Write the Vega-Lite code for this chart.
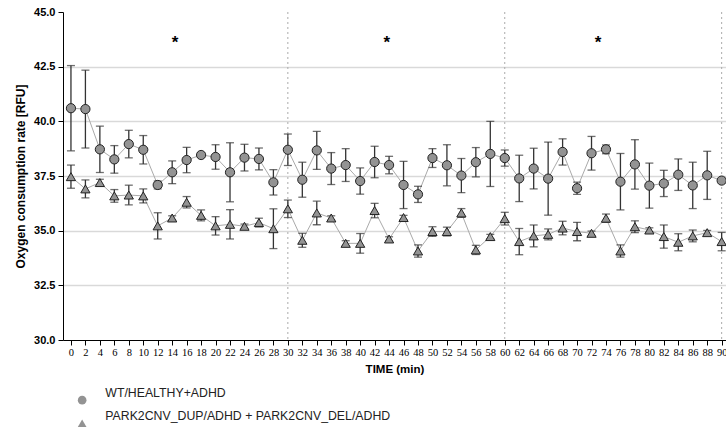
{
  "$schema": "https://vega.github.io/schema/vega-lite/v6.json",
  "autosize": {"type": "none"},
  "padding": {"left": 63, "top": 12, "right": 0, "bottom": 96},
  "width": 663,
  "height": 328,
  "config": {"view": {"stroke": null}, "font": "Liberation Sans"},
  "datasets": {
    "obs": [
      {"time": 0, "group": "WT/HEALTHY+ADHD", "mean": 40.6, "err": 1.95},
      {"time": 2, "group": "WT/HEALTHY+ADHD", "mean": 40.56, "err": 1.78},
      {"time": 4, "group": "WT/HEALTHY+ADHD", "mean": 38.72, "err": 1.06},
      {"time": 6, "group": "WT/HEALTHY+ADHD", "mean": 38.26, "err": 0.63},
      {"time": 8, "group": "WT/HEALTHY+ADHD", "mean": 38.96, "err": 0.63},
      {"time": 10, "group": "WT/HEALTHY+ADHD", "mean": 38.7, "err": 0.65},
      {"time": 12, "group": "WT/HEALTHY+ADHD", "mean": 37.09, "err": 0.18},
      {"time": 14, "group": "WT/HEALTHY+ADHD", "mean": 37.67, "err": 0.52},
      {"time": 16, "group": "WT/HEALTHY+ADHD", "mean": 38.23, "err": 0.58},
      {"time": 18, "group": "WT/HEALTHY+ADHD", "mean": 38.46, "err": 0.1},
      {"time": 20, "group": "WT/HEALTHY+ADHD", "mean": 38.37, "err": 0.56},
      {"time": 22, "group": "WT/HEALTHY+ADHD", "mean": 37.67, "err": 1.35},
      {"time": 24, "group": "WT/HEALTHY+ADHD", "mean": 38.34, "err": 0.61},
      {"time": 26, "group": "WT/HEALTHY+ADHD", "mean": 38.28, "err": 0.5},
      {"time": 28, "group": "WT/HEALTHY+ADHD", "mean": 37.21, "err": 0.58},
      {"time": 30, "group": "WT/HEALTHY+ADHD", "mean": 38.7, "err": 0.72},
      {"time": 32, "group": "WT/HEALTHY+ADHD", "mean": 37.33, "err": 0.8},
      {"time": 34, "group": "WT/HEALTHY+ADHD", "mean": 38.67, "err": 0.87},
      {"time": 36, "group": "WT/HEALTHY+ADHD", "mean": 37.84, "err": 0.73},
      {"time": 38, "group": "WT/HEALTHY+ADHD", "mean": 38.0, "err": 0.75},
      {"time": 40, "group": "WT/HEALTHY+ADHD", "mean": 37.27, "err": 0.6},
      {"time": 42, "group": "WT/HEALTHY+ADHD", "mean": 38.14, "err": 0.72},
      {"time": 44, "group": "WT/HEALTHY+ADHD", "mean": 38.0, "err": 0.4},
      {"time": 46, "group": "WT/HEALTHY+ADHD", "mean": 37.09, "err": 1.08},
      {"time": 48, "group": "WT/HEALTHY+ADHD", "mean": 36.66, "err": 0.37},
      {"time": 50, "group": "WT/HEALTHY+ADHD", "mean": 38.32, "err": 0.43},
      {"time": 52, "group": "WT/HEALTHY+ADHD", "mean": 37.99, "err": 0.94},
      {"time": 54, "group": "WT/HEALTHY+ADHD", "mean": 37.52, "err": 0.78},
      {"time": 56, "group": "WT/HEALTHY+ADHD", "mean": 38.13, "err": 0.67},
      {"time": 58, "group": "WT/HEALTHY+ADHD", "mean": 38.51, "err": 1.49},
      {"time": 60, "group": "WT/HEALTHY+ADHD", "mean": 38.32, "err": 0.37},
      {"time": 62, "group": "WT/HEALTHY+ADHD", "mean": 37.39, "err": 1.06},
      {"time": 64, "group": "WT/HEALTHY+ADHD", "mean": 37.84, "err": 0.93},
      {"time": 66, "group": "WT/HEALTHY+ADHD", "mean": 37.38, "err": 1.67},
      {"time": 68, "group": "WT/HEALTHY+ADHD", "mean": 38.6, "err": 0.6},
      {"time": 70, "group": "WT/HEALTHY+ADHD", "mean": 36.94, "err": 0.28},
      {"time": 72, "group": "WT/HEALTHY+ADHD", "mean": 38.54, "err": 0.77},
      {"time": 74, "group": "WT/HEALTHY+ADHD", "mean": 38.72, "err": 0.2},
      {"time": 76, "group": "WT/HEALTHY+ADHD", "mean": 37.24, "err": 1.29},
      {"time": 78, "group": "WT/HEALTHY+ADHD", "mean": 38.03, "err": 1.13},
      {"time": 80, "group": "WT/HEALTHY+ADHD", "mean": 37.06, "err": 1.03},
      {"time": 82, "group": "WT/HEALTHY+ADHD", "mean": 37.16, "err": 0.6},
      {"time": 84, "group": "WT/HEALTHY+ADHD", "mean": 37.56, "err": 0.72},
      {"time": 86, "group": "WT/HEALTHY+ADHD", "mean": 37.07, "err": 1.06},
      {"time": 88, "group": "WT/HEALTHY+ADHD", "mean": 37.53, "err": 1.1},
      {"time": 90, "group": "WT/HEALTHY+ADHD", "mean": 37.29, "err": 0.1},
      {"time": 0, "group": "PARK2CNV_DUP/ADHD + PARK2CNV_DEL/ADHD", "mean": 37.47, "err": 0.53},
      {"time": 2, "group": "PARK2CNV_DUP/ADHD + PARK2CNV_DEL/ADHD", "mean": 36.91, "err": 0.41},
      {"time": 4, "group": "PARK2CNV_DUP/ADHD + PARK2CNV_DEL/ADHD", "mean": 37.2, "err": 0.15},
      {"time": 6, "group": "PARK2CNV_DUP/ADHD + PARK2CNV_DEL/ADHD", "mean": 36.59, "err": 0.29},
      {"time": 8, "group": "PARK2CNV_DUP/ADHD + PARK2CNV_DEL/ADHD", "mean": 36.63, "err": 0.45},
      {"time": 10, "group": "PARK2CNV_DUP/ADHD + PARK2CNV_DEL/ADHD", "mean": 36.59, "err": 0.32},
      {"time": 12, "group": "PARK2CNV_DUP/ADHD + PARK2CNV_DEL/ADHD", "mean": 35.22, "err": 0.6},
      {"time": 14, "group": "PARK2CNV_DUP/ADHD + PARK2CNV_DEL/ADHD", "mean": 35.58, "err": 0.1},
      {"time": 16, "group": "PARK2CNV_DUP/ADHD + PARK2CNV_DEL/ADHD", "mean": 36.3, "err": 0.26},
      {"time": 18, "group": "PARK2CNV_DUP/ADHD + PARK2CNV_DEL/ADHD", "mean": 35.7, "err": 0.25},
      {"time": 20, "group": "PARK2CNV_DUP/ADHD + PARK2CNV_DEL/ADHD", "mean": 35.22, "err": 0.42},
      {"time": 22, "group": "PARK2CNV_DUP/ADHD + PARK2CNV_DEL/ADHD", "mean": 35.29, "err": 0.67},
      {"time": 24, "group": "PARK2CNV_DUP/ADHD + PARK2CNV_DEL/ADHD", "mean": 35.2, "err": 0.1},
      {"time": 26, "group": "PARK2CNV_DUP/ADHD + PARK2CNV_DEL/ADHD", "mean": 35.37, "err": 0.2},
      {"time": 28, "group": "PARK2CNV_DUP/ADHD + PARK2CNV_DEL/ADHD", "mean": 35.09, "err": 0.91},
      {"time": 30, "group": "PARK2CNV_DUP/ADHD + PARK2CNV_DEL/ADHD", "mean": 36.0, "err": 0.4},
      {"time": 32, "group": "PARK2CNV_DUP/ADHD + PARK2CNV_DEL/ADHD", "mean": 34.56, "err": 0.32},
      {"time": 34, "group": "PARK2CNV_DUP/ADHD + PARK2CNV_DEL/ADHD", "mean": 35.81, "err": 0.54},
      {"time": 36, "group": "PARK2CNV_DUP/ADHD + PARK2CNV_DEL/ADHD", "mean": 35.58, "err": 0.1},
      {"time": 38, "group": "PARK2CNV_DUP/ADHD + PARK2CNV_DEL/ADHD", "mean": 34.42, "err": 0.12},
      {"time": 40, "group": "PARK2CNV_DUP/ADHD + PARK2CNV_DEL/ADHD", "mean": 34.42, "err": 0.45},
      {"time": 42, "group": "PARK2CNV_DUP/ADHD + PARK2CNV_DEL/ADHD", "mean": 35.92, "err": 0.33},
      {"time": 44, "group": "PARK2CNV_DUP/ADHD + PARK2CNV_DEL/ADHD", "mean": 34.62, "err": 0.1},
      {"time": 46, "group": "PARK2CNV_DUP/ADHD + PARK2CNV_DEL/ADHD", "mean": 35.6, "err": 0.1},
      {"time": 48, "group": "PARK2CNV_DUP/ADHD + PARK2CNV_DEL/ADHD", "mean": 34.07, "err": 0.28},
      {"time": 50, "group": "PARK2CNV_DUP/ADHD + PARK2CNV_DEL/ADHD", "mean": 34.96, "err": 0.22},
      {"time": 52, "group": "PARK2CNV_DUP/ADHD + PARK2CNV_DEL/ADHD", "mean": 34.96, "err": 0.2},
      {"time": 54, "group": "PARK2CNV_DUP/ADHD + PARK2CNV_DEL/ADHD", "mean": 35.81, "err": 0.2},
      {"time": 56, "group": "PARK2CNV_DUP/ADHD + PARK2CNV_DEL/ADHD", "mean": 34.12, "err": 0.21},
      {"time": 58, "group": "PARK2CNV_DUP/ADHD + PARK2CNV_DEL/ADHD", "mean": 34.73, "err": 0.1},
      {"time": 60, "group": "PARK2CNV_DUP/ADHD + PARK2CNV_DEL/ADHD", "mean": 35.55, "err": 0.29},
      {"time": 62, "group": "PARK2CNV_DUP/ADHD + PARK2CNV_DEL/ADHD", "mean": 34.5, "err": 0.6},
      {"time": 64, "group": "PARK2CNV_DUP/ADHD + PARK2CNV_DEL/ADHD", "mean": 34.76, "err": 0.5},
      {"time": 66, "group": "PARK2CNV_DUP/ADHD + PARK2CNV_DEL/ADHD", "mean": 34.83, "err": 0.25},
      {"time": 68, "group": "PARK2CNV_DUP/ADHD + PARK2CNV_DEL/ADHD", "mean": 35.12, "err": 0.31},
      {"time": 70, "group": "PARK2CNV_DUP/ADHD + PARK2CNV_DEL/ADHD", "mean": 34.96, "err": 0.42},
      {"time": 72, "group": "PARK2CNV_DUP/ADHD + PARK2CNV_DEL/ADHD", "mean": 34.88, "err": 0.1},
      {"time": 74, "group": "PARK2CNV_DUP/ADHD + PARK2CNV_DEL/ADHD", "mean": 35.57, "err": 0.19},
      {"time": 76, "group": "PARK2CNV_DUP/ADHD + PARK2CNV_DEL/ADHD", "mean": 34.07, "err": 0.28},
      {"time": 78, "group": "PARK2CNV_DUP/ADHD + PARK2CNV_DEL/ADHD", "mean": 35.18, "err": 0.27},
      {"time": 80, "group": "PARK2CNV_DUP/ADHD + PARK2CNV_DEL/ADHD", "mean": 35.03, "err": 0.1},
      {"time": 82, "group": "PARK2CNV_DUP/ADHD + PARK2CNV_DEL/ADHD", "mean": 34.73, "err": 0.53},
      {"time": 84, "group": "PARK2CNV_DUP/ADHD + PARK2CNV_DEL/ADHD", "mean": 34.47, "err": 0.39},
      {"time": 86, "group": "PARK2CNV_DUP/ADHD + PARK2CNV_DEL/ADHD", "mean": 34.76, "err": 0.27},
      {"time": 88, "group": "PARK2CNV_DUP/ADHD + PARK2CNV_DEL/ADHD", "mean": 34.91, "err": 0.1},
      {"time": 90, "group": "PARK2CNV_DUP/ADHD + PARK2CNV_DEL/ADHD", "mean": 34.5, "err": 0.42}
    ],
    "dividers": [{"time": 30}, {"time": 60}, {"time": 90}],
    "stars": [
      {"time": 14.4, "mean": 43.6, "label": "*"},
      {"time": 43.7, "mean": 43.6, "label": "*"},
      {"time": 72.9, "mean": 43.6, "label": "*"}
    ]
  },
  "encoding": {
    "x": {"field": "time", "type": "quantitative", "scale": {"domain": [-1.1, 90.6], "nice": false, "zero": false},
      "title": "TIME (min)",
      "axis": {
        "values": [0,2,4,6,8,10,12,14,16,18,20,22,24,26,28,30,32,34,36,38,40,42,44,46,48,50,52,54,56,58,60,62,64,66,68,70,72,74,76,78,80,82,84,86,88,90],
        "labelAngle": 0, "grid": false, "tickSize": 5, "tickColor": "#000", "domainColor": "#000",
        "labelFont": "Liberation Sans Narrow", "labelFontSize": 10.5, "labelColor": "#000", "labelPadding": 2,
        "labelOverlap": false, "labelFlush": false,
        "titleFontWeight": "bold", "titleFontSize": 11.5, "titleColor": "#000", "titlePadding": 6
      }}
  },
  "layer": [
    {
      "data": {"name": "dividers"},
      "mark": {"type": "rule", "color": "#aaaaaa", "strokeDash": [2, 3], "strokeWidth": 1},
      "encoding": {}
    },
    {
      "data": {"name": "obs"},
      "mark": {"type": "line", "color": "#aaaaaa", "strokeWidth": 1},
      "encoding": {
        "y": {"field": "mean", "type": "quantitative", "scale": {"domain": [30, 45], "nice": false, "zero": false},
          "title": "Oxygen consumption rate [RFU]",
          "axis": {
            "values": [30, 32.5, 35, 37.5, 40, 42.5, 45], "format": ".1f",
            "labelFontWeight": "bold", "labelFontSize": 11, "labelColor": "#000", "labelPadding": 3,
            "tickSize": 5, "tickColor": "#000", "domainColor": "#000",
            "grid": true, "gridColor": "#d9d9d9", "gridWidth": 1.5,
            "gridOpacity": {"condition": {"test": "datum.value == 45 || datum.value == 30", "value": 0}, "value": 1},
            "titleFontWeight": "bold", "titleFontSize": 12, "titleColor": "#000", "titlePadding": 6
          }},
        "detail": {"field": "group"}
      }
    },
    {
      "data": {"name": "obs"},
      "mark": {"type": "errorbar", "color": "#333333", "thickness": 1.3, "ticks": {"size": 8, "color": "#333333", "thickness": 1.3}},
      "encoding": {
        "y": {"field": "mean", "type": "quantitative", "title": "Oxygen consumption rate [RFU]"},
        "yError": {"field": "err"},
        "detail": {"field": "group"}
      }
    },
    {
      "data": {"name": "obs"},
      "mark": {"type": "point", "filled": true, "fill": "#939393", "stroke": "#222222", "strokeWidth": 1, "opacity": 1, "size": 85},
      "encoding": {
        "y": {"field": "mean", "type": "quantitative", "title": "Oxygen consumption rate [RFU]"},
        "shape": {"field": "group", "type": "nominal",
          "scale": {"domain": ["WT/HEALTHY+ADHD", "PARK2CNV_DUP/ADHD + PARK2CNV_DEL/ADHD"], "range": ["circle", "triangle-up"]},
          "legend": {"orient": "none", "legendX": 13, "legendY": 382, "title": null,
            "labelFontSize": 12.3, "labelFont": "Liberation Sans", "labelColor": "#222", "labelOffset": 17, "labelLimit": 0,
            "symbolSize": 75, "symbolFillColor": "#939393", "symbolStrokeColor": "#222222", "symbolStrokeWidth": 1,
            "rowPadding": 3, "labelBaseline": "bottom"}}
      }
    },
    {
      "data": {"name": "stars"},
      "mark": {"type": "text", "fontSize": 17, "fontWeight": "bold", "color": "#000", "baseline": "middle", "font": "Liberation Sans"},
      "encoding": {
        "y": {"field": "mean", "type": "quantitative", "title": "Oxygen consumption rate [RFU]"},
        "text": {"field": "label"}
      }
    }
  ]
}
